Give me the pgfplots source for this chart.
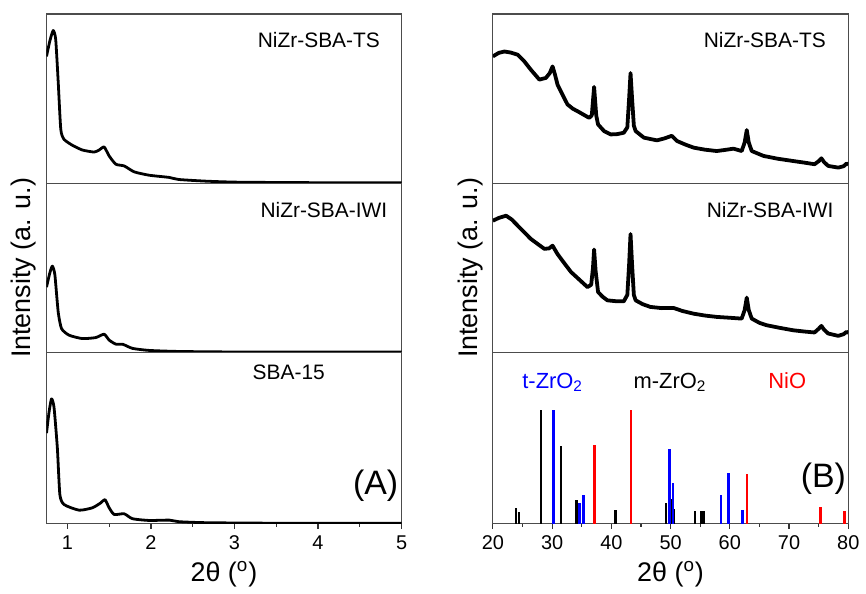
\documentclass[border=0pt]{standalone}
\usepackage{pgfplots}
\pgfplotsset{compat=1.18}
\usepackage{fontspec}
\setmainfont{Liberation Sans}
\definecolor{refblue}{RGB}{0,0,255}
\definecolor{refred}{RGB}{255,0,0}
\tikzset{lab/.style={font=\fontsize{10.5}{12.6}\selectfont}}

\begin{document}
\begin{tikzpicture}
\path (0,0) rectangle (433pt,296.5pt);
\pgfplotsset{
 panel/.style={scale only axis, anchor=south west, ymin=0, ymax=1, ytick=\empty,
   axis line style={black!70, line width=0.6pt},
   /pgf/number format/assume math mode=true,
   tick label style={font=\fontsize{10}{12}\selectfont},
   xtick pos=left, tick align=outside, major tick length=2.5pt, minor tick length=1.5pt,
   tick style={black!80, line width=0.6pt},
   xlabel style={font=\fontsize{13.5}{16}\selectfont, at={(axis description cs:0.5,-0.295)}, anchor=center},
   ylabel style={font=\fontsize{13.5}{16}\selectfont, at={(axis description cs:-0.064,0.5)}, anchor=center}},
 lpanel/.style={panel, xmin=0.75, xmax=5, width=178.3pt},
 rpanel/.style={panel, xmin=20, xmax=80, width=178.5pt},
 curve/.style={black, line width=1.4pt, line join=round},
 nc/.style={black, line width=1.9pt, line join=round},
}

% ---------- Left column ----------
\begin{axis}[lpanel, at={(23.35pt,204.5pt)}, height=85pt, xtick=\empty]
\addplot[curve, smooth, tension=0.35] coordinates {
(0.75,0.749) (0.79,0.84) (0.83,0.902) (0.86,0.85) (0.89,0.6) (0.921,0.318) (0.96,0.259)
(1.06,0.224) (1.18,0.196) (1.32,0.184) (1.38,0.196) (1.44,0.214) (1.50,0.161) (1.58,0.112)
(1.68,0.102) (1.80,0.067) (1.98,0.047) (2.22,0.034) (2.33,0.022) (2.66,0.012) (3.05,0.006)
(4,0.003) (5,0.002)};
\node[lab] at (axis cs:4.01,0.847) {NiZr-SBA-TS};
\end{axis}

\begin{axis}[lpanel, at={(23.35pt,119.5pt)}, height=85pt, xtick=\empty, ylabel={Intensity (a. u.)}]
\addplot[curve, smooth, tension=0.35] coordinates {
(0.75,0.386) (0.79,0.47) (0.82,0.51) (0.85,0.46) (0.89,0.239) (0.93,0.141) (1.02,0.102)
(1.18,0.082) (1.34,0.088) (1.44,0.108) (1.50,0.073) (1.58,0.049) (1.66,0.049) (1.78,0.024)
(1.98,0.012) (2.33,0.006) (3,0.003) (5,0.002)};
\node[lab] at (axis cs:4.07,0.843) {NiZr-SBA-IWI};
\end{axis}

\begin{axis}[lpanel, at={(23.35pt,33.5pt)}, height=86pt, xtick={1,2,3,4,5}, minor x tick num=1,
  xlabel={2θ (\textsuperscript{o})}]
\addplot[curve, smooth, tension=0.35] coordinates {
(0.75,0.529) (0.78,0.65) (0.81,0.729) (0.84,0.68) (0.88,0.442) (0.91,0.17) (0.96,0.112)
(1.14,0.079) (1.30,0.093) (1.40,0.122) (1.45,0.141) (1.50,0.093) (1.56,0.054) (1.68,0.058)
(1.78,0.029) (1.98,0.019) (2.22,0.021) (2.33,0.012) (2.66,0.006) (3.5,0.003) (5,0.003)};
\node[lab] at (axis cs:3.65,0.884) {SBA-15};
\node[font=\fontsize{17}{20}\selectfont] at (axis cs:4.69,0.22) {(A)};
\end{axis}

% ---------- Right column ----------
\begin{axis}[rpanel, at={(247.5pt,204.5pt)}, height=85pt, xtick=\empty]
\addplot[nc] coordinates {
(20,0.749) (21,0.77) (21.96,0.778) (23,0.772) (24.2,0.759) (25.3,0.72) (26.4,0.671) (27.85,0.612)
(28.96,0.622) (29.6,0.65) (30.08,0.69) (30.5,0.64) (30.92,0.582) (31.8,0.52) (32.6,0.465)
(33.5,0.44) (34.3,0.425) (35.3,0.405) (36.25,0.386) (36.7,0.40) (37.09,0.569) (37.45,0.40)
(37.76,0.347) (38.77,0.308) (39.9,0.288) (41,0.29) (42.1,0.298) (42.7,0.33) (43.0,0.5)
(43.24,0.651) (43.5,0.5) (43.8,0.34) (44.1,0.308) (45.5,0.269) (47.7,0.253) (49,0.265)
(50.2,0.28) (51.1,0.249) (52.5,0.228) (53.9,0.21) (55.8,0.198) (57.8,0.19) (59.5,0.198)
(60.6,0.204) (62.0,0.19) (62.5,0.24) (62.86,0.314) (63.2,0.24) (63.7,0.19) (65.7,0.161)
(68,0.145) (70.7,0.131) (72.5,0.122) (74.3,0.112) (75.0,0.13) (75.46,0.147) (75.9,0.125)
(76.6,0.102) (78.3,0.092) (79.2,0.1) (79.7,0.116) (80,0.11)};
\node[lab] at (axis cs:65.9,0.847) {NiZr-SBA-TS};
\end{axis}

\begin{axis}[rpanel, at={(247.5pt,119.5pt)}, height=85pt, xtick=\empty, ylabel={Intensity (a. u.)}]
\addplot[nc] coordinates {
(20,0.778) (21,0.795) (22.24,0.808) (23.2,0.785) (24.2,0.749) (25.3,0.71) (26.4,0.671)
(27.6,0.64) (28.7,0.612) (29.5,0.615) (30.08,0.631) (30.9,0.582) (32,0.53) (33.2,0.475)
(34.6,0.43) (35.97,0.386) (36.6,0.40) (36.9,0.5) (37.09,0.608) (37.35,0.48) (37.76,0.357)
(38.5,0.33) (39.33,0.308) (40.7,0.303) (42.1,0.302) (42.7,0.34) (43.0,0.52) (43.24,0.70)
(43.5,0.52) (43.8,0.34) (44.1,0.308) (45.3,0.285) (46.6,0.269) (48.5,0.262) (50.5,0.263)
(52,0.245) (53.9,0.229) (55.8,0.218) (57.8,0.21) (60,0.205) (62.0,0.2) (62.5,0.25)
(62.86,0.324) (63.2,0.25) (63.7,0.2) (65,0.175) (66.2,0.161) (68.5,0.145) (70.7,0.131)
(72.5,0.124) (74.3,0.118) (75.0,0.14) (75.46,0.157) (75.9,0.135) (76.6,0.112) (78.3,0.098)
(79.2,0.108) (79.7,0.122) (80,0.115)};
\node[lab] at (axis cs:66.8,0.843) {NiZr-SBA-IWI};
\end{axis}

\begin{axis}[rpanel, at={(247.5pt,33.5pt)}, height=86pt, xtick={20,30,...,80}, minor x tick num=1,
  xlabel={2θ (\textsuperscript{o})}]
\addplot[ycomb, black, line width=1.3pt] coordinates {
(23.9,0.091) (24.4,0.068) (28.1,0.666) (31.5,0.454) (34.1,0.139) (34.4,0.116) (35.3,0.087)
(40.7,0.081) (49.2,0.12) (50.1,0.145) (50.6,0.087) (54.1,0.074) (55.2,0.074) (55.6,0.074)};
\addplot[ycomb, refblue, line width=1.3pt] coordinates {
(30.2,0.666) (34.6,0.122) (35.3,0.168) (49.8,0.434) (50.4,0.236) (58.5,0.170) (59.8,0.299) (62.1,0.081)};
\addplot[ycomb, refred, line width=1.3pt] coordinates {
(37.2,0.46) (43.3,0.666) (62.9,0.293) (75.3,0.097) (79.4,0.074)};
\node[font=\fontsize{11}{13}\selectfont, text=refblue, anchor=base] at (axis cs:30.1,0.79) {t-ZrO\textsubscript{2}};
\node[font=\fontsize{11}{13}\selectfont, text=black, anchor=base] at (axis cs:49.9,0.79) {m-ZrO\textsubscript{2}};
\node[font=\fontsize{11}{13}\selectfont, text=refred, anchor=base] at (axis cs:69.7,0.79) {NiO};
\node[font=\fontsize{17}{20}\selectfont] at (axis cs:75.8,0.26) {(B)};
\end{axis}
\end{tikzpicture}
\end{document}
